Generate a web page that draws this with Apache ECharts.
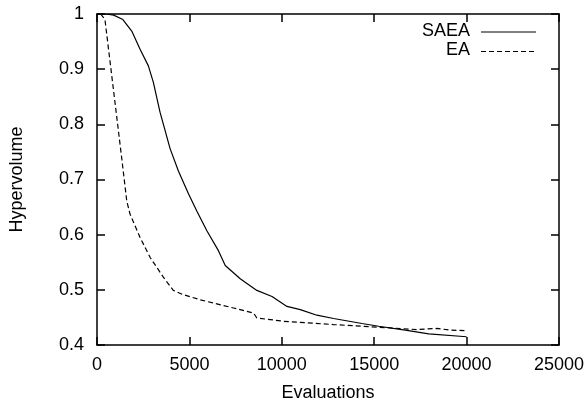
<!DOCTYPE html>
<html><head><meta charset="utf-8">
<script src="https://cdn.jsdelivr.net/npm/echarts@6/dist/echarts.min.js"></script>
<style>html,body{margin:0;padding:0;background:#fff}#c{width:588px;height:407px}</style>
</head><body><div id="c"></div>
<script>
const saeaX = [0, 500, 900, 1400, 1880, 2330, 2780, 3050, 3410, 3955, 4410, 4950, 5400, 5945, 6570, 6940, 7750, 8650, 9470, 10280, 11000, 11900, 12800, 14340, 15240, 16680, 17950, 20000];
const saeaY = [1.0, 1.0, 0.998, 0.99, 0.969, 0.936, 0.906, 0.876, 0.822, 0.756, 0.715, 0.674, 0.643, 0.607, 0.571, 0.544, 0.520, 0.499, 0.488, 0.470, 0.464, 0.454, 0.448, 0.439, 0.434, 0.427, 0.420, 0.415];
const eaX = [200, 430, 1070, 1340, 1610, 1790, 2330, 2870, 3590, 4130, 4600, 5580, 7390, 8470, 8650, 10100, 12800, 14340, 15870, 17310, 18400, 19120, 20000];
const eaY = [1.0, 0.99, 0.813, 0.738, 0.661, 0.637, 0.595, 0.559, 0.523, 0.499, 0.492, 0.482, 0.467, 0.458, 0.449, 0.443, 0.437, 0.434, 0.431, 0.428, 0.430, 0.427, 0.426];
const xTicks = [0, 5000, 10000, 15000, 20000, 25000];
const yTicks = [0.4, 0.5, 0.6, 0.7, 0.8, 0.9, 1];
const seriesNames = ['SAEA', 'EA'];

const FONT = '"Liberation Sans", Arial, Helvetica, sans-serif';
const chart = echarts.init(document.getElementById('c'), null, {renderer: 'canvas'});
const axisLineStyle = {color: '#000', width: 1.5};
const baseX = {
  type: 'value', min: xTicks[0], max: xTicks[xTicks.length - 1], interval: xTicks[1] - xTicks[0],
  axisLine: {show: true, onZero: false, lineStyle: axisLineStyle},
  axisTick: {show: true, inside: true, length: 8, lineStyle: {color: '#000', width: 1.5}},
  splitLine: {show: false}
};
const baseY = {
  type: 'value', min: yTicks[0], max: yTicks[yTicks.length - 1], interval: 0.1,
  axisLine: {show: true, onZero: false, lineStyle: axisLineStyle},
  axisTick: {show: true, inside: true, length: 8, lineStyle: {color: '#000', width: 1.5}},
  splitLine: {show: false}
};
const legendItems = [];
seriesNames.forEach((n, i) => {
  const y = 32 + i * 19.5;
  legendItems.push({type: 'text', right: 588 - 470, top: y - 10,
    style: {text: n, font: '18px ' + FONT, fill: '#000', textAlign: 'right'}});
  legendItems.push({type: 'line', shape: {x1: 481, y1: y, x2: 536, y2: y},
    style: {stroke: '#000', lineWidth: 1, lineDash: i === 0 ? null : [5, 3]}});
});
chart.setOption({
  animation: false,
  backgroundColor: '#fff',
  textStyle: {fontFamily: FONT},
  grid: {left: 97, right: 29, top: 14, bottom: 58.5, containLabel: false},
  graphic: legendItems,
  xAxis: [
    Object.assign({}, baseX, {
      position: 'bottom', name: 'Evaluations', nameLocation: 'middle', nameGap: 39,
      nameTextStyle: {fontFamily: FONT, fontSize: 18, color: '#000'},
      axisLabel: {show: true, margin: 11, fontFamily: FONT, fontSize: 18, color: '#000',
        formatter: v => String(v)}
    }),
    Object.assign({}, baseX, {position: 'top', axisLabel: {show: false}})
  ],
  yAxis: [
    Object.assign({}, baseY, {
      position: 'left', name: 'Hypervolume', nameLocation: 'middle', nameGap: 71, nameRotate: 90,
      nameTextStyle: {fontFamily: FONT, fontSize: 18, color: '#000'},
      axisLabel: {show: true, margin: 13, fontFamily: FONT, fontSize: 18, color: '#000',
        formatter: v => String(Math.round(v * 10) / 10)}
    }),
    Object.assign({}, baseY, {position: 'right', axisLabel: {show: false}})
  ],
  series: [
    {name: seriesNames[0], type: 'line', xAxisIndex: 0, yAxisIndex: 0, symbol: 'none',
     lineStyle: {color: '#000', width: 1.2, type: 'solid'}, itemStyle: {color: '#000'},
     data: saeaX.map((x, i) => [x, saeaY[i]])},
    {name: seriesNames[1], type: 'line', xAxisIndex: 0, yAxisIndex: 0, symbol: 'none',
     lineStyle: {color: '#000', width: 1.2, type: [5, 3]}, itemStyle: {color: '#000'},
     data: eaX.map((x, i) => [x, eaY[i]])}
  ]
});
</script></body></html>
